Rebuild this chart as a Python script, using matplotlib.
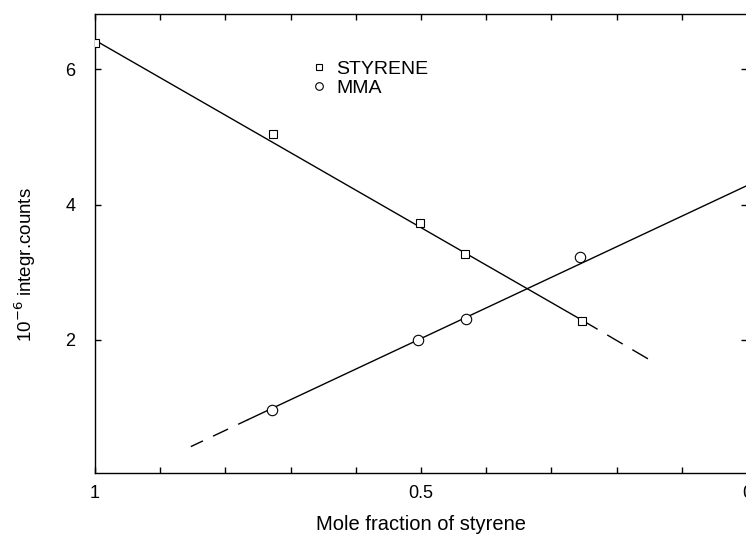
import matplotlib.pyplot as plt
from matplotlib.lines import Line2D
from matplotlib.ticker import MultipleLocator, FixedLocator, FixedFormatter

plt.rcParams['font.family'] = ['Liberation Sans', 'DejaVu Sans']

# measured points (mole fraction of styrene, 10^-6 integrated counts)
styrene_x = [1.0, 0.727, 0.502, 0.433, 0.253]
styrene_y = [6.39, 5.04, 3.72, 3.27, 2.28]
mma_x = [0.729, 0.505, 0.431, 0.256]
mma_y = [0.96, 1.99, 2.30, 3.22]

# fitted straight lines: solid inside the data range, dashed extrapolation
styrene_fit_x = [1.0, 0.253]
styrene_fit_y = [6.43, 2.29]
styrene_ext_x = [0.253, 0.138]
styrene_ext_y = [2.29, 1.64]
mma_fit_x = [0.0, 0.765]
mma_fit_y = [4.28, 0.82]
mma_ext_x = [0.765, 0.853]
mma_ext_y = [0.82, 0.42]

xtick_pos = [1.0, 0.5, 0.0]
xtick_labels = ["1", "0.5", "0"]
ytick_pos = [2, 4, 6]

fig = plt.figure(figsize=(7.46, 5.37), dpi=100)
ax = fig.add_axes([0.1273, 0.1192, 0.874, 0.855])

lw = 1.0
ax.plot(styrene_fit_x, styrene_fit_y, color='black', lw=lw)
ax.plot(styrene_ext_x, styrene_ext_y, color='black', lw=lw, linestyle=(0, (13, 8)))
ax.plot(mma_fit_x, mma_fit_y, color='black', lw=lw)
ax.plot(mma_ext_x, mma_ext_y, color='black', lw=lw, linestyle=(4, (12, 8)))

ax.plot(styrene_x, styrene_y, linestyle='none', marker='s', ms=6,
        mfc='white', mec='black', mew=0.8, zorder=3)
ax.plot(mma_x, mma_y, linestyle='none', marker='o', ms=7.5,
        mfc='white', mec='black', mew=0.8, zorder=3)

ax.set_xlim(1.0, 0.0)
ax.set_ylim(0.03, 6.82)

ax.xaxis.set_major_locator(FixedLocator(xtick_pos))
ax.xaxis.set_major_formatter(FixedFormatter(xtick_labels))
ax.xaxis.set_minor_locator(MultipleLocator(0.1))
ax.yaxis.set_major_locator(FixedLocator(ytick_pos))

ax.tick_params(axis='both', which='both', direction='in', length=4, width=1.0,
               top=True, right=True, labelsize=13)
ax.tick_params(axis='y', pad=14)
ax.tick_params(axis='x', pad=9)

for s in ax.spines.values():
    s.set_linewidth(1.0)

ax.set_xlabel("Mole fraction of styrene", fontsize=14.5)
ax.xaxis.set_label_coords(0.5, -0.091)
ax.set_ylabel("10$^{-6}$ integr.counts", fontsize=13.5)
ax.yaxis.set_label_coords(-0.087, 0.453)

handles = [
    Line2D([], [], linestyle='none', marker='s', ms=5, mfc='white', mec='black', mew=0.8),
    Line2D([], [], linestyle='none', marker='o', ms=5.5, mfc='white', mec='black', mew=0.8),
]
ax.legend(handles, ["STYRENE", "MMA"], loc='upper left', bbox_to_anchor=(0.331, 0.898),
          frameon=False, fontsize=14, handlelength=0.8, handletextpad=0.5,
          labelspacing=0.05, borderpad=0, borderaxespad=0)

fig.savefig("out.png", dpi=100)
